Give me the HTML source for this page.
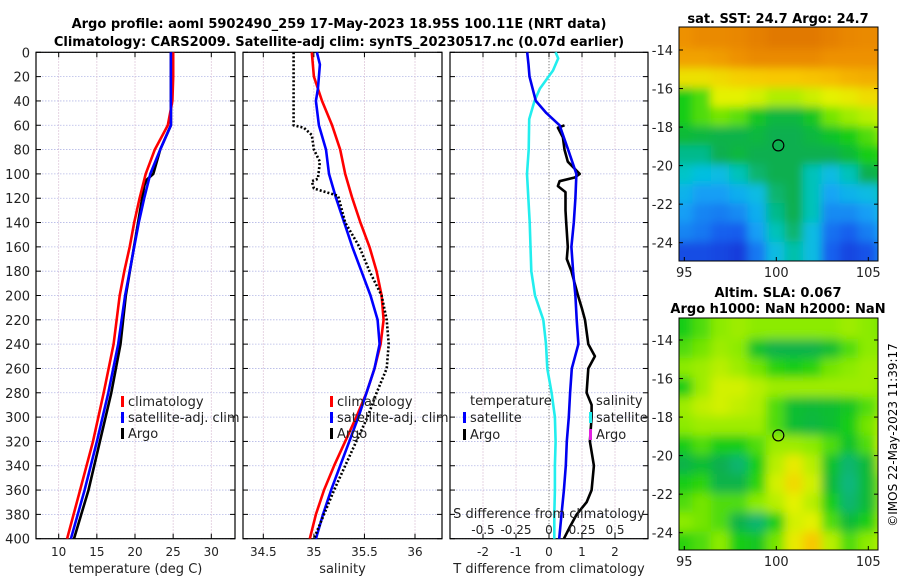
<!DOCTYPE html>
<html><head><meta charset="utf-8"><style>
html,body{margin:0;padding:0;background:#fff;}
svg{display:block;font-family:"DejaVu Sans","Liberation Sans",sans-serif;}
</style></head><body>
<svg id="s" width="900" height="580" viewBox="0 0 900 580" xmlns="http://www.w3.org/2000/svg">
<defs>
<filter id="bl" x="-5%" y="-5%" width="110%" height="110%"><feGaussianBlur stdDeviation="5"/></filter>
<filter id="bl2" x="-5%" y="-5%" width="110%" height="110%"><feGaussianBlur stdDeviation="4.5"/></filter>
<clipPath id="c1"><rect x="679" y="27" width="199" height="234"/></clipPath>
<clipPath id="c2"><rect x="679" y="318" width="199" height="232"/></clipPath>
</defs>
<text x="339" y="28" text-anchor="middle" font-size="13" font-weight="bold">Argo profile: aoml 5902490_259 17-May-2023 18.95S 100.11E (NRT data)</text>
<text x="339" y="46" text-anchor="middle" font-size="13" font-weight="bold">Climatology: CARS2009. Satellite-adj clim: synTS_20230517.nc (0.07d earlier)</text>
<text x="778" y="23" text-anchor="middle" font-size="13" font-weight="bold">sat. SST: 24.7 Argo: 24.7</text>
<text x="778" y="297" text-anchor="middle" font-size="13" font-weight="bold">Altim. SLA: 0.067</text>
<text x="778" y="313" text-anchor="middle" font-size="13" font-weight="bold">Argo h1000: NaN h2000: NaN</text>
<text transform="translate(897,435) rotate(-90)" text-anchor="middle" font-size="12">©IMOS 22-May-2023 11:39:17</text>
<g id="g"></g>
</svg>
<script>
// ---- profile data ----
const tempClimDepth=[0,20,40,60,80,100,120,140,160,180,200,240,280,320,360,400];
const tempClimVal=[25.0,25.0,24.9,24.3,22.6,21.4,20.6,19.9,19.3,18.6,18.0,17.2,15.9,14.5,12.8,11.1];
const tempSatDepth=[0,20,40,60,80,100,120,140,160,180,200,240,280,320,360,400];
const tempSatVal=[24.7,24.7,24.7,24.7,23.3,22.0,21.2,20.5,19.9,19.3,18.7,17.8,16.5,15.0,13.4,11.6];
const tempArgoDepth=[0,60,80,100,105,110,140,200,240,280,320,360,400];
const tempArgoVal=[24.7,24.7,23.3,22.4,21.5,21.2,20.4,18.8,18.1,16.9,15.4,13.9,12.0];
const salClimDepth=[0,20,40,60,80,100,120,140,160,180,200,220,240,260,280,300,320,340,360,380,400];
const salClimVal=[34.98,35.0,35.08,35.18,35.26,35.31,35.38,35.46,35.55,35.62,35.67,35.69,35.66,35.6,35.52,35.42,35.31,35.2,35.1,35.02,34.96];
const salSatDepth=[0,10,30,40,60,80,100,120,140,160,180,200,220,240,260,280,300,320,340,360,380,400];
const salSatVal=[35.03,35.06,35.04,35.02,35.05,35.12,35.15,35.22,35.3,35.38,35.47,35.56,35.63,35.65,35.6,35.52,35.44,35.35,35.26,35.17,35.09,35.02];
const salArgoDepth=[0,60,62,68,80,90,104,106,112,118,140,160,180,200,220,240,260,280,300,320,340,360,380,400];
const salArgoVal=[34.8,34.8,34.9,34.98,35.0,35.06,35.04,34.98,35.0,35.24,35.31,35.45,35.55,35.67,35.72,35.74,35.72,35.62,35.53,35.42,35.31,35.2,35.1,35.0];
const dTsatDepth=[0,10,20,40,50,60,80,100,120,140,160,180,200,220,240,250,260,280,300,320,340,360,380,400];
const dTsatVal=[-0.66,-0.62,-0.59,-0.4,-0.08,0.32,0.58,0.83,0.8,0.75,0.68,0.73,0.8,0.84,0.89,0.79,0.69,0.64,0.6,0.54,0.51,0.45,0.38,0.31];
const dTargoDepth=[60,62,70,80,90,100,103,106,110,115,130,140,160,170,180,200,210,220,240,250,260,280,290,300,320,340,360,370,380,390,400];
const dTargoVal=[0.47,0.27,0.42,0.47,0.57,0.93,0.78,0.32,0.27,0.5,0.5,0.52,0.57,0.54,0.68,0.88,0.99,1.09,1.19,1.39,1.19,1.14,1.29,1.29,1.24,1.36,1.29,1.14,0.84,0.64,0.45];
const dSsatDepth=[0,5,15,30,40,55,80,100,140,180,200,220,240,260,280,300,320,340,360,380,400];
const dSsatVal=[0.05,0.07,0.03,-0.07,-0.11,-0.15,-0.154,-0.167,-0.146,-0.134,-0.106,-0.043,-0.023,-0.013,0.02,0.045,0.05,0.045,0.045,0.04,0.04];
const depthTicks=[0,20,40,60,80,100,120,140,160,180,200,220,240,260,280,300,320,340,360,380,400];
const tTicks=[10,15,20,25,30];
const sTicks=[34.5,35,35.5,36];
const dTTicks=[-2,-1,0,1,2];
const dSTickLabels=["-0.5","-0.25","0","0.25","0.5"];
const dSTicks=[-0.5,-0.25,0,0.25,0.5];
// ---- map data (normalised colour index 0..1) ----
const mapLons=[95,96,97,98,99,100,101,102,103,104,105,106];
const mapLats=[-13.5,-14.5,-15.5,-16.5,-17.5,-18.5,-19.5,-20.5,-21.5,-22.5,-23.5,-24.5];
const sstGrid=[
[.9,.92,.92,.93,.95,.97,.97,.97,.95,.93,.92,.92],
[.87,.87,.88,.9,.92,.92,.92,.92,.9,.9,.9,.9],
[.74,.74,.76,.78,.79,.8,.8,.81,.82,.84,.85,.85],
[.5,.55,.7,.7,.68,.64,.64,.67,.7,.72,.75,.76],
[.5,.55,.58,.56,.48,.44,.44,.48,.58,.62,.65,.68],
[.45,.44,.43,.43,.44,.42,.42,.44,.47,.5,.55,.6],
[.38,.38,.42,.44,.42,.42,.42,.42,.42,.45,.5,.52],
[.34,.31,.3,.35,.4,.42,.42,.35,.3,.35,.42,.45],
[.28,.24,.24,.27,.3,.4,.42,.35,.25,.28,.3,.35],
[.24,.2,.19,.21,.27,.38,.42,.35,.21,.21,.24,.3],
[.2,.18,.14,.13,.24,.35,.4,.3,.17,.14,.19,.25],
[.08,.08,.06,.03,.18,.3,.36,.3,.14,.06,.1,.2]];
const slaGrid=[
[.5,.55,.6,.62,.6,.6,.6,.6,.6,.62,.6,.58],
[.55,.58,.62,.6,.47,.43,.43,.43,.46,.55,.6,.6],
[.6,.62,.65,.62,.58,.52,.5,.52,.58,.6,.62,.62],
[.5,.62,.68,.68,.65,.62,.62,.62,.62,.62,.62,.6],
[.62,.66,.68,.66,.64,.55,.46,.45,.46,.48,.55,.62],
[.6,.62,.62,.62,.62,.55,.46,.44,.46,.5,.58,.65],
[.5,.55,.5,.5,.55,.62,.62,.6,.55,.47,.55,.68],
[.43,.46,.42,.4,.5,.65,.72,.65,.47,.4,.45,.65],
[.5,.52,.43,.43,.52,.68,.76,.68,.45,.39,.45,.6],
[.55,.58,.55,.55,.6,.65,.7,.65,.5,.4,.45,.6],
[.6,.58,.55,.43,.4,.5,.68,.7,.55,.45,.5,.62],
[.52,.55,.6,.5,.48,.58,.72,.8,.65,.55,.6,.65]];
const argoLon=100.11, argoLat=-18.95;
const mapLonTicks=[95,100,105];
const mapLatTicks=[-14,-16,-18,-20,-22,-24];

const NS="http://www.w3.org/2000/svg";
const G=document.getElementById('g');
function mk(tag,attrs,parent){const e=document.createElementNS(NS,tag);for(const k in attrs)e.setAttribute(k,attrs[k]);(parent||G).appendChild(e);return e;}
const Y0=52.3,Y1=538.7;
function yD(d){return Y0+(d/400)*(Y1-Y0);}
function lin(d0,d1,r0,r1){return v=>r0+(v-d0)/(d1-d0)*(r1-r0);}
const panels=[
 {x0:36,x1:235,sx:lin(10,30,58.7,211.3),ticks:tTicks,labels:tTicks.map(String),title:"temperature (deg C)",name:"temperature"},
 {x0:243,x1:442,sx:lin(34.5,36,263.3,415),ticks:sTicks,labels:sTicks.map(String),title:"salinity",name:"salinity"},
 {x0:450,x1:648,sx:lin(-2,2,483,615),ticks:dTTicks,labels:dTTicks.map(String),title:"T difference from climatology",name:"difference"}];
panels.forEach((p,pi)=>{
 const pg=mk('g',{});
 
 
 depthTicks.forEach(d=>{
  const l=mk('line',{x1:p.x0,x2:p.x1,y1:yD(d),y2:yD(d),stroke:'#b4b8e6','stroke-width':0.8,'stroke-dasharray':'1.5,1.5'},pg);
  
  
 });
 p.ticks.forEach(t=>{
  const x=p.sx(t);
  const l=mk('line',{x1:x,x2:x,y1:Y0,y2:Y1,stroke:(pi==2&&t==0)?'#555':'#d6b8d0','stroke-width':(pi==2&&t==0)?1:0.8,'stroke-dasharray':(pi==2&&t==0)?'1,2':'1.5,1.5'},pg);
  
  
  mk('line',{x1:x,x2:x,y1:Y1,y2:Y1-5,stroke:'#000','stroke-width':1},pg);
  mk('line',{x1:x,x2:x,y1:Y0,y2:Y0+5,stroke:'#000','stroke-width':1},pg);
  const tx=mk('text',{x:x,y:556,'text-anchor':'middle','font-size':12,fill:'#222'},pg);
  tx.textContent=p.labels[p.ticks.indexOf(t)];
  
  
 });
 depthTicks.forEach(d=>{
  mk('line',{x1:p.x0,x2:p.x0+5,y1:yD(d),y2:yD(d),stroke:'#000'},pg);
  mk('line',{x1:p.x1,x2:p.x1-5,y1:yD(d),y2:yD(d),stroke:'#000'},pg);
 });
 const r=mk('rect',{x:p.x0,y:Y0,width:p.x1-p.x0,height:Y1-Y0,fill:'none',stroke:'#000','stroke-width':1.2},pg);
 
 
 const at=mk('text',{x:(p.x0+p.x1)/2,y:573,'text-anchor':'middle','font-size':13,fill:'#222'},pg);
 at.textContent=p.title;
 
 
});
depthTicks.forEach(d=>{
 const t=mk('text',{x:30,y:yD(d)+5,'text-anchor':'end','font-size':13,fill:'#222'});
 t.textContent=d;
 
 
});
function line(depths,vals,sx,color,name,dash){
 const pts=depths.map((d,i)=>sx(vals[i]).toFixed(1)+','+yD(d).toFixed(1)).join(' ');
 const a={points:pts,fill:'none',stroke:color,'stroke-width':2.6,'stroke-linejoin':'round'};
 if(dash)a['stroke-dasharray']=dash;
 const e=mk('polyline',a);
 
 
}
const P=panels;
line(tempArgoDepth,tempArgoVal,P[0].sx,'#000','temp-argo-line');
line(tempClimDepth,tempClimVal,P[0].sx,'#f00','temp-climatology-line');
line(tempSatDepth,tempSatVal,P[0].sx,'#00f','temp-satellite-line');
line(salClimDepth,salClimVal,P[1].sx,'#f00','sal-climatology-line');
line(salSatDepth,salSatVal,P[1].sx,'#00f','sal-satellite-line');
line(salArgoDepth,salArgoVal,P[1].sx,'#000','sal-argo-line','2,2');
const sxS=lin(0,1,549,681);
line(dSsatDepth,dSsatVal,sxS,'#22eeee','sal-diff-satellite-line');
line(dTargoDepth,dTargoVal,P[2].sx,'#000','temp-diff-argo-line');
line(dTsatDepth,dTsatVal,P[2].sx,'#0000f0','temp-diff-satellite-line');
const sl=mk('text',{x:549,y:518,'text-anchor':'middle','font-size':13,fill:'#222'});
sl.textContent='S difference from climatology';


dSTicks.forEach((t,i)=>{
 const e=mk('text',{x:sxS(t),y:534,'text-anchor':'middle','font-size':12,fill:'#222'});
 e.textContent=dSTickLabels[i];
 
 
});
function leg(x,y,color,label,name){
 const g=mk('g',{});
 
 
 if(color) mk('rect',{x:x-7,y:y-10,width:3,height:11,fill:color},g);
 const t=mk('text',{x:x,y:y,'font-size':13,fill:'#222'},g);
 t.textContent=label;
}
leg(128,406,'#f00','climatology','legend-climatology');
leg(128,422,'#00f','satellite-adj. clim','legend-satellite');
leg(128,438,'#000','Argo','legend-argo');
leg(337,406,'#f00','climatology','legend-sal-climatology');
leg(337,422,'#00f','satellite-adj. clim','legend-sal-satellite');
leg(337,438,'#000','Argo','legend-sal-argo');
leg(470,405,null,'temperature','legend-temp-header');
leg(470,422,'#00f','satellite','legend-dt-satellite');
leg(470,439,'#000','Argo','legend-dt-argo');
leg(596,405,null,'salinity','legend-sal-header');
leg(596,422,'#22eeee','satellite','legend-ds-satellite');
leg(596,439,'#e020e0','Argo','legend-ds-argo');
const stops=[[0,[20,50,215]],[.15,[20,100,240]],[.25,[20,165,245]],[.33,[0,200,215]],[.42,[10,175,80]],[.5,[20,205,20]],[.6,[140,235,0]],[.7,[228,242,0]],[.8,[248,200,0]],[.9,[238,145,0]],[1,[220,110,0]]];
function cmap(v){for(let i=1;i<stops.length;i++){if(v<=stops[i][0]){const a=stops[i-1],b=stops[i],f=(v-a[0])/(b[0]-a[0]);return 'rgb('+a[1].map((c,j)=>Math.round(c+f*(b[1][j]-c))).join(',')+')';}}return 'rgb(220,110,0)';}
const mx=lin(95,105,684.3,868.3);
function drawMap(grid,top,clip,name,blur){
 const my=v=>top+(-14-v)*19.27;
 const g=mk('g',{'clip-path':'url(#'+clip+')'});
 
 
 const inner=mk('g',{filter:'url(#'+blur+')'},g);
 mapLats.forEach((lat,ri)=>mapLons.forEach((lon,ci)=>{
  let x=mx(lon-0.5)-1,w=20.4,y=my(lat+0.5)-1,h=21.3;
  if(ci==0){x-=20;w+=20;} if(ci==mapLons.length-1){w+=20;}
  if(ri==0){y-=20;h+=20;} if(ri==mapLats.length-1){h+=20;}
  const c=mk('rect',{x:x,y:y,width:w,height:h,fill:cmap(grid[ri][ci])},inner);
  
  
 }));
 const fr=mk('rect',{x:679,y:(clip=='c1'?27:318),width:199,height:(clip=='c1'?234:232),fill:'none',stroke:'#000','stroke-width':1});
 
 
 const ci=mk('circle',{cx:mx(argoLon),cy:my(argoLat),r:5.5,fill:'none',stroke:'#000','stroke-width':1.2});
 
 
 const bot=clip=='c1'?261:550;
 mapLatTicks.forEach(l=>{
  const y=my(l);
  mk('line',{x1:679,x2:683,y1:y,y2:y,stroke:'#000'});
  mk('line',{x1:878,x2:874,y1:y,y2:y,stroke:'#000'});
  const t=mk('text',{x:673,y:y+5,'text-anchor':'end','font-size':13,fill:'#222'});
  t.textContent=l;
  
  
 });
 mapLonTicks.forEach(l=>{
  const x=mx(l);
  mk('line',{x1:x,x2:x,y1:bot,y2:bot-4,stroke:'#000'});
  const t=mk('text',{x:x,y:bot+16,'text-anchor':'middle','font-size':13,fill:'#222'});
  t.textContent=l;
  
  
 });
}
drawMap(sstGrid,50,'c1','sst-map','bl2');
drawMap(slaGrid,340,'c2','sla-map','bl');
</script>
</body></html>
